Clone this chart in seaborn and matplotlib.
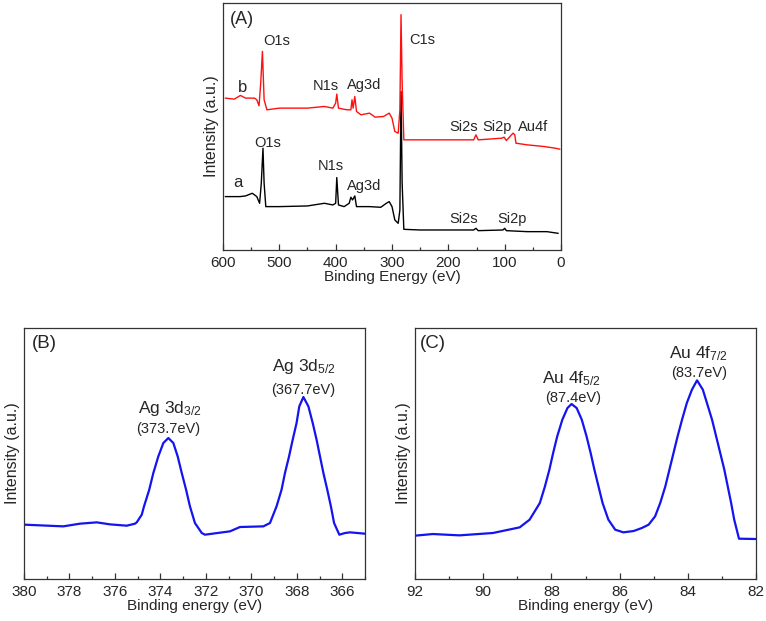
import numpy as np
import pandas as pd
import seaborn as sns
import matplotlib
matplotlib.use('Agg')
from matplotlib import pyplot as plt
from matplotlib.ticker import MultipleLocator

# survey spectra (A), arbitrary intensity
survey_b_energy = [596, 580, 569, 560, 544, 540, 536, 533, 530, 527, 522, 500, 450, 420, 405,
                   400, 398, 395, 380, 373, 371, 369, 366, 363, 355, 340, 330, 315, 305, 300,
                   295, 289, 286, 284, 282, 279, 270, 200, 155, 151, 147, 105, 101, 97,
                   88, 85, 82, 80, 60, 30, 10, 2]
survey_b_int = [455, 452, 463, 455, 455, 450, 432, 500, 595, 450, 420, 425, 425, 430, 425,
                440, 467, 425, 420, 420, 450, 425, 460, 415, 405, 410, 398, 400, 410, 395,
                355, 350, 420, 705, 500, 330, 330, 330, 330, 345, 330, 335, 338, 328,
                345, 350, 345, 320, 315, 310, 305, 302]
survey_a_energy = [596, 570, 560, 548, 540, 535, 532, 529, 527, 524, 500, 450, 420, 405, 400,
                   398, 395, 385, 376, 373, 370, 366, 363, 340, 320, 310, 305, 300, 295, 289,
                   286, 284, 282, 279, 250, 155, 151, 147, 103, 100, 97, 60, 25, 5]
survey_a_int = [160, 160, 162, 170, 160, 140, 200, 305, 200, 130, 130, 132, 140, 135, 140,
                217, 135, 130, 140, 158, 150, 162, 130, 130, 128, 140, 145, 130, 90, 80,
                120, 475, 200, 62, 60, 60, 65, 58, 60, 65, 58, 55, 55, 50]

# Ag 3d (B)
ag_energy = [379.96, 379.30, 378.27, 377.54, 376.80, 376.22, 375.48, 375.12, 375.04, 374.82,
             374.72, 374.49, 374.31, 374.09, 373.87, 373.65, 373.43, 373.24, 373.06, 372.87,
             372.70, 372.48, 372.18, 372.04, 370.94, 370.50, 369.47, 369.18, 368.89, 368.67,
             368.52, 368.34, 368.18, 368.01, 367.89, 367.71, 367.49, 367.30, 367.13, 366.98,
             366.83, 366.66, 366.50, 366.36, 366.13, 365.88, 365.66, 365.0]
ag_int = [163, 161, 158, 166, 170, 164, 160, 166, 170, 193,
          218, 268, 318, 368, 408, 423, 408, 368, 318, 268,
          218, 168, 138, 133, 143, 156, 158, 168, 218, 268,
          318, 368, 418, 468, 518, 546, 518, 468, 418, 368,
          318, 268, 218, 168, 133, 138, 140, 136]

# Au 4f (C)
au_energy = [92.0, 91.48, 90.70, 89.72, 88.93, 88.64, 88.34, 88.19, 88.06, 87.95,
             87.83, 87.68, 87.53, 87.41, 87.26, 87.11, 86.97, 86.85, 86.74, 86.62,
             86.50, 86.33, 86.13, 85.89, 85.59, 85.35, 85.15, 84.96, 84.81, 84.66,
             84.54, 84.42, 84.30, 84.17, 84.03, 83.88, 83.73, 83.56, 83.44, 83.29,
             83.17, 83.05, 82.93, 82.83, 82.73, 82.64, 82.50, 82.0]
au_int = [130, 135, 131, 138, 155, 178, 228, 278, 328, 378,
          428, 478, 513, 525, 513, 478, 428, 378, 328, 278,
          228, 178, 148, 140, 144, 153, 163, 188, 228, 278,
          328, 378, 428, 478, 528, 568, 596, 568, 528, 478,
          428, 378, 328, 278, 228, 178, 121, 120]

sns.set_theme(style='ticks')
plt.rcParams['font.family'] = ['Liberation Sans', 'DejaVu Sans']
plt.rcParams['mathtext.fontset'] = 'custom'
plt.rcParams['mathtext.rm'] = 'Liberation Sans'
plt.rcParams['mathtext.it'] = 'Liberation Sans:italic'
plt.rcParams['axes.edgecolor'] = '#333333'
plt.rcParams['axes.linewidth'] = 0.9

fig = plt.figure(figsize=(7.66, 6.21), dpi=100)
ax_a = fig.add_axes([0.2911, 0.5974, 0.4413, 0.3978])
ax_b = fig.add_axes([0.0313, 0.0676, 0.4452, 0.4042])
ax_c = fig.add_axes([0.5418, 0.0676, 0.4452, 0.4042])


def style_axis(ax, xlabel, major, minor):
    ax.set_yticks([])
    ax.xaxis.set_major_locator(MultipleLocator(major))
    ax.xaxis.set_minor_locator(MultipleLocator(minor))
    ax.tick_params(axis='x', which='major', direction='in', length=4, width=0.9,
                   labelsize=11, pad=4, color='#333333')
    ax.tick_params(axis='x', which='minor', direction='in', length=2.5, width=0.9,
                   color='#333333')
    ax.tick_params(top=False, which='both')
    ax.set_xlabel(xlabel, fontsize=11, labelpad=0)
    ax.set_ylabel('Intensity (a.u.)', fontsize=11.5, labelpad=3)
    for s in ax.spines.values():
        s.set_visible(True)


# (A) survey
df_b = pd.DataFrame({'E': survey_b_energy, 'I': survey_b_int})
df_a = pd.DataFrame({'E': survey_a_energy, 'I': survey_a_int})
sns.lineplot(data=df_a, x='E', y='I', color='black', lw=1.0, ax=ax_a)
sns.lineplot(data=df_b, x='E', y='I', color='#ff1010', lw=1.0, ax=ax_a)
ax_a.set_xlim(600, 0)
ax_a.set_ylim(0, 740)
style_axis(ax_a, 'Binding Energy (eV)', 100, 50)

fs = 10.5
ax_a.text(587, 690, '(A)', fontsize=13, va='center', ha='left')
ax_a.text(505, 625, 'O1s', fontsize=fs, ha='center', va='center')
ax_a.text(520, 320, 'O1s', fontsize=fs, ha='center', va='center')
ax_a.text(565, 488, 'b', fontsize=12, ha='center', va='center')
ax_a.text(573, 202, 'a', fontsize=12, ha='center', va='center')
ax_a.text(417, 490, 'N1s', fontsize=fs, ha='center', va='center')
ax_a.text(350, 495, 'Ag3d', fontsize=fs, ha='center', va='center')
ax_a.text(247, 628, 'C1s', fontsize=fs, ha='center', va='center')
ax_a.text(173, 367, 'Si2s', fontsize=fs, ha='center', va='center')
ax_a.text(114, 367, 'Si2p', fontsize=fs, ha='center', va='center')
ax_a.text(50, 367, 'Au4f', fontsize=fs, ha='center', va='center')
ax_a.text(408, 253, 'N1s', fontsize=fs, ha='center', va='center')
ax_a.text(350, 193, 'Ag3d', fontsize=fs, ha='center', va='center')
ax_a.text(173, 93, 'Si2s', fontsize=fs, ha='center', va='center')
ax_a.text(87, 93, 'Si2p', fontsize=fs, ha='center', va='center')

# (B) Ag 3d
df_ag = pd.DataFrame({'E': ag_energy, 'I': ag_int})
sns.lineplot(data=df_ag, x='E', y='I', color='#1414f0', lw=1.6, ax=ax_b)
ax_b.set_xlim(380, 365)
ax_b.set_ylim(0, 753)
style_axis(ax_b, 'Binding energy (eV)', 2, 1)
ax_b.text(379.65, 708, '(B)', fontsize=13.5, va='center', ha='left')
ax_b.text(373.58, 512, 'Ag 3d$_{3/2}$', fontsize=12.5, ha='center', va='center')
ax_b.text(373.65, 449, '(373.7eV)', fontsize=10.5, ha='center', va='center')
ax_b.text(367.7, 637, 'Ag 3d$_{5/2}$', fontsize=12.5, ha='center', va='center')
ax_b.text(367.72, 568, '(367.7eV)', fontsize=10.5, ha='center', va='center')

# (C) Au 4f
df_au = pd.DataFrame({'E': au_energy, 'I': au_int})
sns.lineplot(data=df_au, x='E', y='I', color='#1414f0', lw=1.6, ax=ax_c)
ax_c.set_xlim(92, 82)
ax_c.set_ylim(0, 753)
style_axis(ax_c, 'Binding energy (eV)', 2, 1)
ax_c.text(91.85, 708, '(C)', fontsize=13.5, va='center', ha='left')
ax_c.text(87.42, 600, 'Au 4f$_{5/2}$', fontsize=12.5, ha='center', va='center')
ax_c.text(87.37, 544, '(87.4eV)', fontsize=10.5, ha='center', va='center')
ax_c.text(83.68, 675, 'Au 4f$_{7/2}$', fontsize=12.5, ha='center', va='center')
ax_c.text(83.68, 618, '(83.7eV)', fontsize=10.5, ha='center', va='center')

fig.savefig('out.png', dpi=100)
